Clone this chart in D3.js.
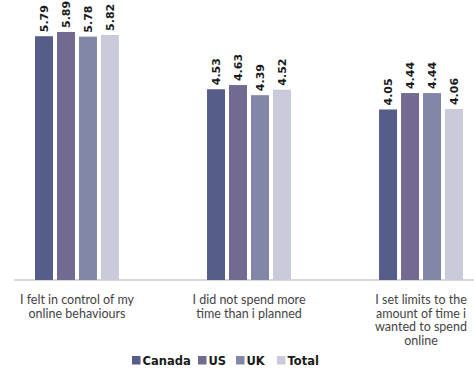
<!DOCTYPE html>
<html>
<head>
<meta charset="utf-8">
<script src="https://cdn.jsdelivr.net/npm/d3@7"></script>
<style>
  html, body { margin: 0; padding: 0; background: #fff; }
  svg { display: block; }
</style>
</head>
<body>
<script>
// Survey statements (x categories), wrapped onto lines for the axis
const categories = ["control", "time", "limits"];
const categoryLines = [
  ["I felt in control of my", "online behaviours"],
  ["I did not spend more", "time than i planned"],
  ["I set limits to the", "amount of time i", "wanted to spend", "online"]
];

// Series and their values per statement
const seriesNames = ["Canada", "US", "UK", "Total"];
const canada = [5.79, 4.53, 4.05];
const us     = [5.89, 4.63, 4.44];
const uk     = [5.78, 4.39, 4.44];
const total  = [5.82, 4.52, 4.06];
const seriesColors = ["#565d8b", "#736a92", "#8387a7", "#c9cbdb"];

const seriesValues = [canada, us, uk, total];

const width = 474, height = 369;
const baseline = 280;

const svg = d3.select("body").append("svg")
  .attr("width", width)
  .attr("height", height);

const x0 = d3.scaleBand()
  .domain(categories)
  .range([35, 463])
  .paddingInner(0.512)
  .paddingOuter(0);

const x1 = d3.scaleBand()
  .domain(seriesNames)
  .range([0, x0.bandwidth()])
  .paddingInner(0.182);

const y = d3.scaleLinear()
  .domain([0, 6.65])
  .range([baseline, 0]);

const color = d3.scaleOrdinal().domain(seriesNames).range(seriesColors);

const rows = categories.map((c, i) => ({
  cat: c,
  items: seriesNames.map((s, j) => ({ series: s, value: seriesValues[j][i] }))
}));

// Baseline axis
const axis = d3.axisBottom(x0).tickSize(0).tickFormat("");
const axisG = svg.append("g")
  .attr("transform", `translate(0,${baseline})`)
  .call(axis);
axisG.select(".domain")
  .attr("d", `M14,0H474`)
  .attr("stroke", "#d9d9d9")
  .attr("stroke-width", 2);

const groups = svg.append("g").selectAll("g")
  .data(rows)
  .join("g")
  .attr("transform", d => `translate(${x0(d.cat)},0)`);

groups.selectAll("rect")
  .data(d => d.items)
  .join("rect")
  .attr("x", d => x1(d.series))
  .attr("y", d => y(d.value))
  .attr("width", x1.bandwidth())
  .attr("height", d => baseline - y(d.value))
  .attr("fill", d => color(d.series));

// Rotated value labels above each bar
groups.selectAll("text.val")
  .data(d => d.items)
  .join("text")
  .attr("class", "val")
  .attr("transform", d => `translate(${x1(d.series) + x1.bandwidth() / 2 + 4},${y(d.value) - 4}) rotate(-90)`)
  .attr("font-family", "DejaVu Sans, sans-serif")
  .attr("font-weight", "bold")
  .attr("font-size", 11)
  .attr("fill", "#1a1a1a")
  .text(d => d.value.toFixed(2));

// Wrapped category labels
const labelG = svg.append("g");
categories.forEach((c, i) => {
  const t = labelG.append("text")
    .attr("text-anchor", "middle")
    .attr("font-family", "Lato, sans-serif")
    .attr("font-size", 12.5)
    .attr("fill", "#444");
  categoryLines[i].forEach((line, k) => {
    t.append("tspan")
      .attr("x", x0(c) + x0.bandwidth() / 2)
      .attr("y", 304 + k * 13.5)
      .text(line);
  });
});

// Legend
const legendX = [132, 198, 236, 277];
const legend = svg.append("g");
seriesNames.forEach((s, i) => {
  legend.append("rect")
    .attr("x", legendX[i])
    .attr("y", 356)
    .attr("width", 8.5)
    .attr("height", 8.5)
    .attr("fill", color(s));
  legend.append("text")
    .attr("x", legendX[i] + 10.5)
    .attr("y", 364.5)
    .attr("font-family", "DejaVu Sans, sans-serif")
    .attr("font-weight", "bold")
    .attr("font-size", 11.5)
    .attr("fill", "#1a1a1a")
    .text(s);
});
</script>
</body>
</html>
